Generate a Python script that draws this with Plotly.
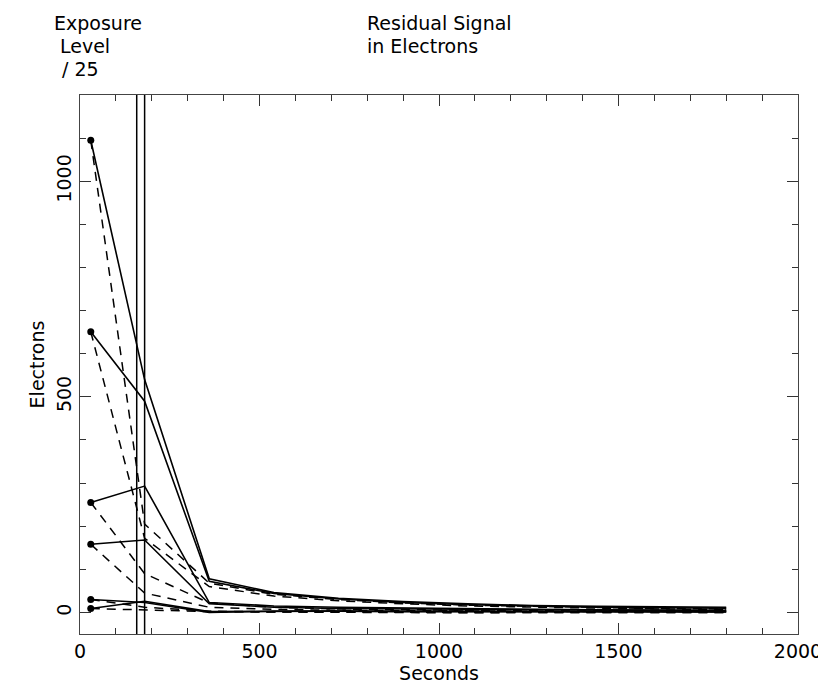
import plotly.graph_objects as go

# time samples (seconds)
times = [30, 180, 360, 540, 720, 900, 1080, 1260, 1440, 1620, 1800]

# solid curves (residual signal, set A)
solid_1 = [1095, 540, 78, 46, 33, 25, 20, 16, 14, 13, 12]
solid_2 = [651, 490, 72, 44, 31, 23, 18, 15, 12, 11, 10]
solid_3 = [255, 293, 23, 15, 12, 10, 8, 7, 6, 5, 5]
solid_4 = [158, 168, 20, 12, 9, 8, 7, 6, 5, 4, 4]
solid_5 = [30, 23, 0, 3, 3, 3, 2, 2, 2, 2, 2]
solid_6 = [9, 26, 2, 3, 3, 2, 2, 2, 1, 1, 1]

# dashed curves (residual signal, set B)
dashed_1 = [1095, 205, 68, 42, 30, 22, 17, 14, 11, 9, 8]
dashed_2 = [651, 172, 60, 38, 27, 20, 15, 12, 10, 8, 7]
dashed_3 = [255, 90, 22, 12, 8, 6, 5, 4, 3, 3, 2]
dashed_4 = [158, 45, 12, 7, 5, 4, 3, 3, 2, 2, 2]
dashed_5 = [30, 12, 3, 1, 1, 0, 0, 0, 0, 0, 0]
dashed_6 = [9, 6, 2, 1, 0, 0, -1, 0, 0, 0, 0]

# exposure markers (exposure level / 25)
exposure_levels = [1095, 651, 255, 158, 30, 9]
exposure_time = 30

# vertical reference lines (seconds)
vline_x = [158, 180]

x_ticks = [0, 500, 1000, 1500, 2000]
y_ticks = [0, 500, 1000]

solids = [solid_1, solid_2, solid_3, solid_4, solid_5, solid_6]
dasheds = [dashed_1, dashed_2, dashed_3, dashed_4, dashed_5, dashed_6]

FONT = "DejaVu Sans"
FS = 19
fig = go.Figure()

for d in dasheds:
    fig.add_trace(go.Scatter(x=times, y=d, mode="lines",
                             line=dict(color="black", width=1.5, dash="9px,7px"),
                             showlegend=False, hoverinfo="skip"))
for s in solids:
    fig.add_trace(go.Scatter(x=times, y=s, mode="lines",
                             line=dict(color="black", width=1.6),
                             showlegend=False, hoverinfo="skip"))

fig.add_trace(go.Scatter(x=[exposure_time] * len(exposure_levels), y=exposure_levels,
                         mode="markers", marker=dict(color="black", size=7),
                         showlegend=False, hoverinfo="skip"))

for vx in vline_x:
    fig.add_vline(x=vx, line=dict(color="black", width=1.5))

W, H = 826, 686
L, R, T, B = 72, 29, 87, 60
pw, ph = W - L - R, H - T - B

def px(xp):
    return (xp - L) / pw

def py(yp):
    return (H - B - yp) / ph

def ann(text, x, y, xanchor="left"):
    fig.add_annotation(text=text, xref="paper", yref="paper", x=px(x), y=py(y),
                       xanchor=xanchor, yanchor="middle", showarrow=False,
                       font=dict(family=FONT, size=FS, color="black"))

ann("Exposure", 44, 15)
ann("Level", 50, 38)
ann("/ 25", 52, 61)
ann("Residual Signal", 360, 15)
ann("in Electrons", 360, 38)

axis_common = dict(showline=True, linecolor="#444", linewidth=1, mirror="ticks",
                   ticks="inside", ticklen=11, tickcolor="#333", tickwidth=1,
                   showgrid=False, zeroline=False,
                   tickfont=dict(family=FONT, size=FS, color="black"))

fig.update_layout(
    width=W, height=H,
    margin=dict(l=L, r=R, t=T, b=B),
    paper_bgcolor="white", plot_bgcolor="white",
    xaxis=dict(range=[0, 2000], tickvals=x_ticks,
               minor=dict(ticks="inside", dtick=100, ticklen=6, tickcolor="#333"),
               title=dict(text="Seconds", font=dict(family=FONT, size=FS, color="black"),
                          standoff=5),
               **axis_common),
    yaxis=dict(range=[-50, 1200], tickvals=y_ticks, tickangle=-90,
               minor=dict(ticks="inside", dtick=100, ticklen=6, tickcolor="#333"),
               title=dict(text="Electrons", font=dict(family=FONT, size=FS, color="black"),
                          standoff=3),
               **axis_common),
)

fig.write_html("out.html")
